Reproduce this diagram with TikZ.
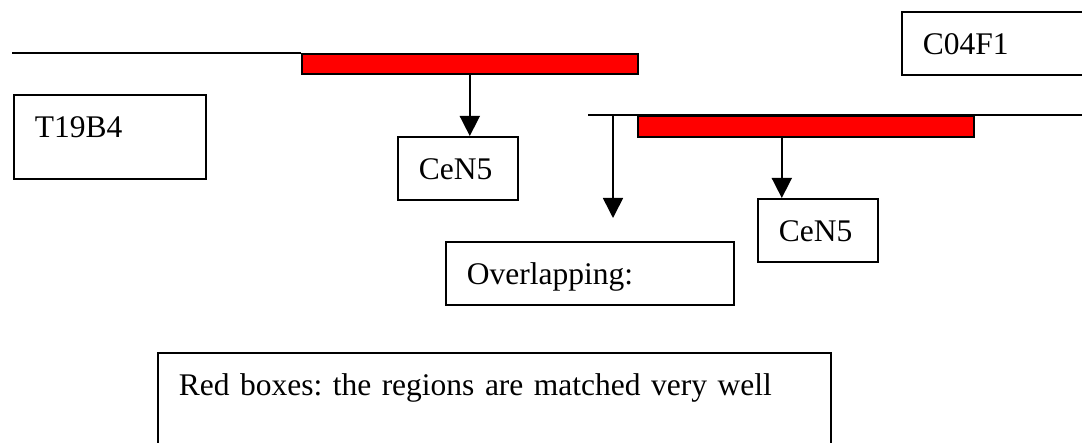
\documentclass[tikz,border=0pt]{standalone}
\usepackage{fontspec}
\setmainfont{Liberation Serif}
\usetikzlibrary{arrows.meta}

\tikzset{
  tbox/.style={draw, line width=1.6pt, anchor=north west, inner xsep=21pt,
    inner ysep=0pt, text height=43pt, align=left},
  redbar/.style={draw, line width=1.6pt, fill=red, anchor=north west,
    inner sep=0pt, minimum width=336pt, minimum height=20pt},
  arr/.style={-{Triangle[width=20pt,length=20pt]}, line width=1.6pt},
}

\begin{document}
\begin{tikzpicture}[x=1pt, y=-1pt, every node/.style={font=\fontsize{31.5}{38}\selectfont}]
  \clip (0,0) rectangle (1082,443);

  % upper match
  \coordinate (lnA) at (12,53);
  \node[redbar] (redA) at (301,53) {};
  \draw[line width=1.6pt] (lnA) -- (redA.north west);
  \node[tbox, text width=150pt, text depth=41pt] (tbb) at (13,94) {T19B4};
  \node[tbox, text width=78pt, text depth=20pt] (cenA) at (397,136) {CeN5};
  \draw[arr] (redA.south) -- (redA.south |- cenA.north);

  % lower match
  \coordinate (lnB) at (588,115);
  \coordinate (lnBend) at (1082,115);
  \draw[line width=1.3pt] (lnB) -- (lnBend);
  \node[redbar, minimum height=21pt] (redB) at (637,115) {};
  \node[tbox, text width=161pt, text depth=20pt] (cof) at (901,11) {C04F1};
  \node[tbox, text width=78pt, text depth=20pt] (cenB) at (757,198) {CeN5};
  \draw[arr] ([xshift=-24pt]redB.south) -- ([xshift=-24pt]redB.south |- cenB.north);

  % overlap
  \coordinate (ovtop) at (613,115);
  \coordinate (ovtip) at (613,218);
  \draw[arr] (ovtop) -- (ovtip);
  \node[tbox, text width=246pt, text depth=20pt] (over) at (445,241) {Overlapping:};

  % note
  \node[tbox, text width=631pt, text depth=100pt] (note) at (157,352)
    {\frenchspacing Red boxes: the regions are matched very well};
\end{tikzpicture}
\end{document}
